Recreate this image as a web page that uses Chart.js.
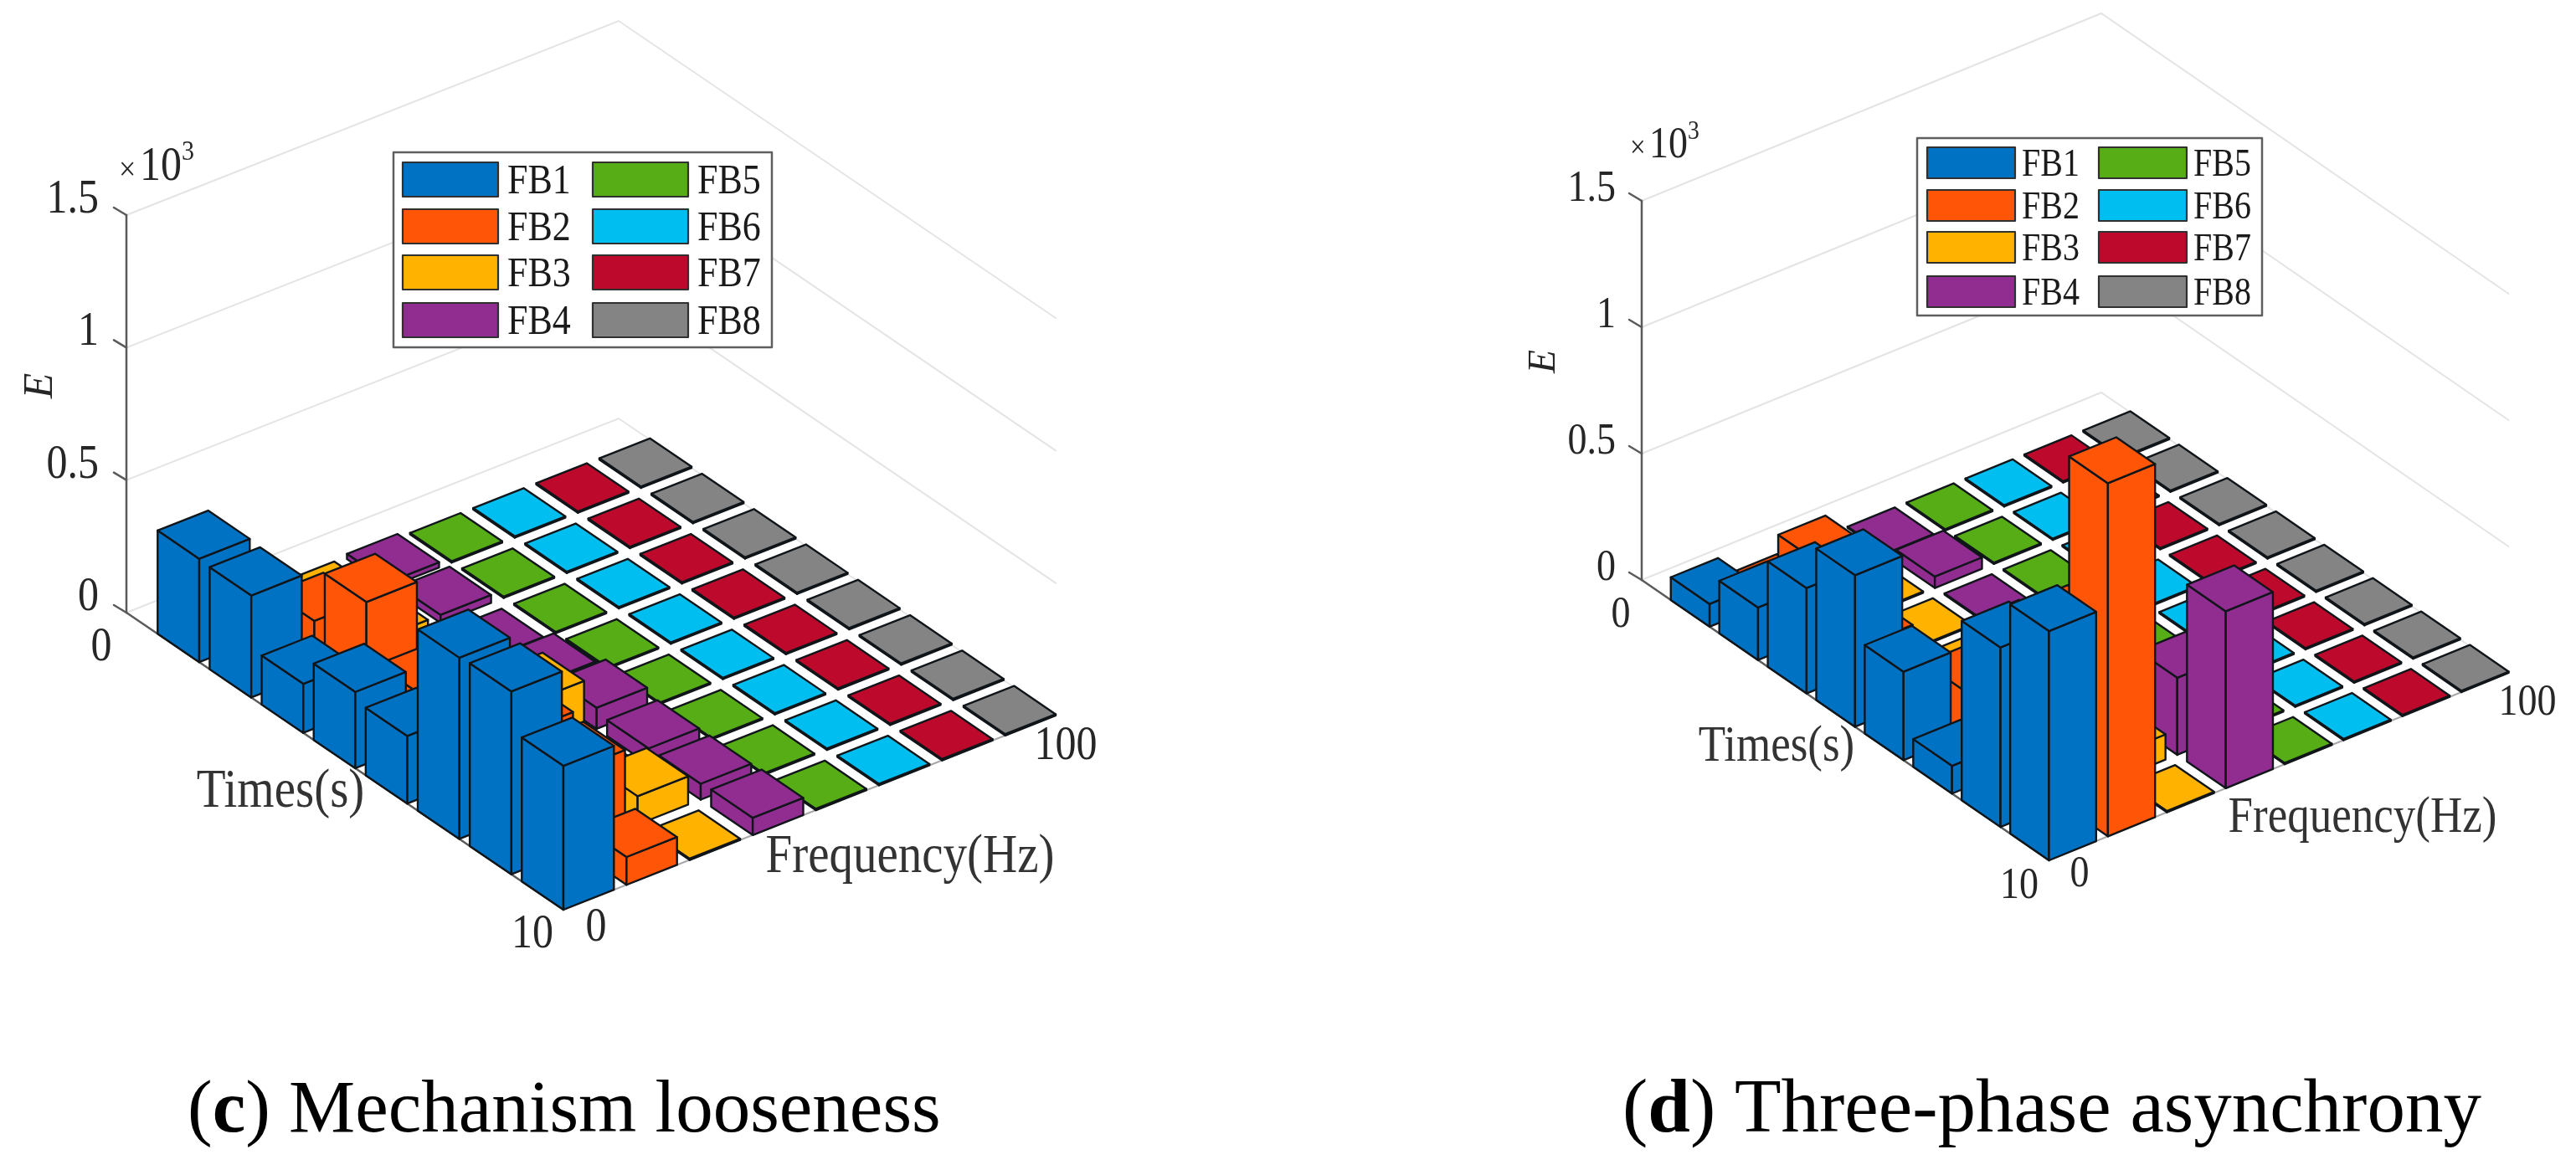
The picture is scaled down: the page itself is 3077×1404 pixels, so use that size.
<!DOCTYPE html>
<html>
<head>
<meta charset="utf-8">
<title>Energy by frequency band</title>
<style>
html,body{margin:0;padding:0;background:#fff;width:3077px;height:1404px;overflow:hidden}
canvas{position:absolute;top:0}
</style>
<script src="https://cdn.jsdelivr.net/npm/chart.js@4/dist/chart.umd.min.js"></script>
</head>
<body>
<canvas id="chartC" style="left:0"></canvas>
<canvas id="chartD" style="left:1540px"></canvas>
<script>
const categories = ['FB1','FB2','FB3','FB4','FB5','FB6','FB7','FB8'];
const timeSlots = [1,2,3,4,5,6,7,8];
const energyTicks = [0,0.5,1,1.5];
const energyTickLabels = ['0','0.5','1','1.5'];
const colours = ['#0072C4','#FF5506','#FFB300','#912C90','#57AD16','#00BFF0','#BD0A2C','#848484'];

const c_FB1 = [0.39,0.385,0.185,0.288,0.255,0.684,0.69,0.543];
const c_FB2 = [0.02,0.195,0.40,0.19,0.2,0.31,0.30,0.105];
const c_FB3 = [0.01,0.03,0.03,0.03,0.2,0.03,0.107,0.005];
const c_FB4 = [0.02,0.03,0.005,0.045,0.08,0.06,0.06,0.065];
const c_FB5 = [0.005,0.005,0.005,0.005,0.005,0.005,0.005,0.005];
const c_FB6 = [0.005,0.005,0.005,0.005,0.005,0.005,0.005,0.005];
const c_FB7 = [0.005,0.005,0.005,0.005,0.005,0.005,0.005,0.005];
const c_FB8 = [0.005,0.005,0.005,0.005,0.005,0.005,0.005,0.005];

const d_FB1 = [0.09,0.208,0.417,0.60,0.35,0.11,0.71,0.907];
const d_FB2 = [0.01,0.295,0.1,0.02,0.185,0.49,0.68,1.397];
const d_FB3 = [0.005,0.005,0.005,0.01,0.02,0.05,0.1,0.005];
const d_FB4 = [0.005,0.045,0.005,0.01,0.01,0.05,0.305,0.70];
const d_FB5 = [0.005,0.005,0.005,0.005,0.005,0.005,0.005,0.005];
const d_FB6 = [0.005,0.005,0.005,0.005,0.005,0.005,0.005,0.005];
const d_FB7 = [0.005,0.005,0.005,0.005,0.005,0.005,0.005,0.005];
const d_FB8 = [0.005,0.005,0.005,0.005,0.005,0.005,0.005,0.005];

const seriesC = [c_FB1,c_FB2,c_FB3,c_FB4,c_FB5,c_FB6,c_FB7,c_FB8];
const seriesD = [d_FB1,d_FB2,d_FB3,d_FB4,d_FB5,d_FB6,d_FB7,d_FB8];

const SERIF = '"Liberation Serif","Times New Roman",serif';

function fitText(ctx, text, x, y, size, align, style, colour, stretch){
  ctx.save();
  ctx.font = (style ? style + ' ' : '') + size + 'px ' + SERIF;
  ctx.textAlign = align; ctx.textBaseline = 'alphabetic';
  ctx.fillStyle = colour || '#262626';
  ctx.translate(x, y);
  ctx.scale(1, stretch || 1);
  ctx.fillText(text, 0, 0);
  ctx.restore();
}
function widthOf(ctx, text, size, style){
  ctx.save();
  ctx.font = (style ? style + ' ' : '') + size + 'px ' + SERIF;
  const w = ctx.measureText(text).width;
  ctx.restore();
  return w;
}

const bars3d = {
  id: 'bars3d',
  beforeDatasetsDraw(chart, args, o){
    const ctx = chart.ctx, sx = chart.scales.x, sf = chart.scales.f, sz = chart.scales.y;
    const dT = v => (sx.getPixelForValue(v) - sx.left) / sx.width;
    const dF = v => (sf.getPixelForValue(v) - sf.left) / sf.width;
    const dZ = v => (sz.bottom - sz.getPixelForValue(v)) / sz.height;
    const P = (t,f,z) => {
      const a = dT(t), b = dF(f), c = dZ(z);
      return [o.origin[0] + a*o.tVec[0] + b*o.fVec[0] - o.offsetX,
              o.origin[1] + a*o.tVec[1] + b*o.fVec[1] - c*o.zLen];
    };
    const tMin = sx.min, tMax = sx.max, fMin = sf.min, fMax = sf.max;
    const ST = 1.14;
    ctx.save();
    ctx.lineCap = 'round';
    // grid on the two walls
    energyTicks.forEach(v => {
      ctx.strokeStyle = '#e4e4e4'; ctx.lineWidth = 2;
      ctx.beginPath();
      let p = P(tMin,fMin,v); ctx.moveTo(p[0],p[1]);
      p = P(tMin,fMax,v); ctx.lineTo(p[0],p[1]);
      p = P(tMax,fMax,v); ctx.lineTo(p[0],p[1]);
      ctx.stroke();
    });
    // axes
    const line = (a,b,col,w) => { ctx.strokeStyle = col; ctx.lineWidth = w; ctx.beginPath(); ctx.moveTo(a[0],a[1]); ctx.lineTo(b[0],b[1]); ctx.stroke(); };
    line(P(tMin,fMin,1.5), P(tMin,fMin,0), '#5a5a5a', 2.5);
    line(P(tMin,fMin,0), P(tMax,fMin,0), '#5a5a5a', 2.5);
    line(P(tMax,fMin,0), P(tMax,fMax,0), '#a8a8a8', 2);
    energyTicks.forEach(v => {
      const a = P(tMin,fMin,v);
      line(a, [a[0]-15, a[1]-9], '#5a5a5a', 2.5);
    });
    // cuboids, far to near
    const half = 0.4;
    ctx.lineJoin = 'round';
    timeSlots.forEach((slot, i) => {
      for (let j = chart.data.datasets.length - 1; j >= 0; j--) {
        const ds = chart.data.datasets[j];
        const h = ds.data[i].y, fc = j + 1;
        const t0 = slot-half, t1 = slot+half, f0 = fc-half, f1 = fc+half;
        const faces = [
          [P(t0,f0,0),P(t1,f0,0),P(t1,f0,h),P(t0,f0,h)],
          [P(t1,f0,0),P(t1,f1,0),P(t1,f1,h),P(t1,f0,h)],
          [P(t0,f0,h),P(t1,f0,h),P(t1,f1,h),P(t0,f1,h)]
        ];
        faces.forEach(face => {
          ctx.beginPath();
          face.forEach((q,k) => k ? ctx.lineTo(q[0],q[1]) : ctx.moveTo(q[0],q[1]));
          ctx.closePath();
          ctx.fillStyle = ds.backgroundColor;
          ctx.fill();
          ctx.strokeStyle = '#10151a'; ctx.lineWidth = 2.4;
          ctx.stroke();
        });
      }
    });
    // tick labels and axis titles
    const X = x => x - o.offsetX;
    energyTicks.forEach((v,k) => {
      const a = P(tMin,fMin,v);
      fitText(ctx, energyTickLabels[k], X(o.zLabelRight), a[1]+o.zLabelDy, o.tickSize, 'right', null, '#262626', ST);
    });
    o.labels.forEach(l => fitText(ctx, l.text, X(l.x), l.y, l.size || o.tickSize, 'center', null, l.colour, ST));
    // multiplier
    fitText(ctx, '\u00d7', X(o.mult[0]), o.mult[1], o.multSize*0.72, 'left', null, '#262626', ST);
    fitText(ctx, '10', X(o.mult[0]+o.multSize*0.5), o.mult[1], o.multSize, 'left', null, '#262626', ST);
    fitText(ctx, '3', X(o.mult[0]+o.multSize*1.5), o.mult[1]-o.multSize*0.48, o.multSize*0.6, 'left', null, '#262626', ST);
    // E
    ctx.save();
    ctx.translate(X(o.eLabel[0]), o.eLabel[1]);
    ctx.rotate(-Math.PI/2);
    fitText(ctx, 'E', 0, 0, o.eSize, 'center', 'italic', '#262626');
    ctx.restore();
    // legend
    const L = o.legend;
    ctx.fillStyle = '#fff';
    ctx.fillRect(X(L.box[0]), L.box[1], L.box[2]-L.box[0], L.box[3]-L.box[1]);
    ctx.strokeStyle = '#5f5f5f'; ctx.lineWidth = 2.5;
    ctx.strokeRect(X(L.box[0]), L.box[1], L.box[2]-L.box[0], L.box[3]-L.box[1]);
    chart.data.datasets.forEach((ds,j) => {
      const col = j < 4 ? 0 : 1, row = j % 4;
      const x = L.cols[col], y = L.rows[row];
      ctx.fillStyle = ds.backgroundColor;
      ctx.fillRect(X(x), y, L.w, L.h);
      ctx.strokeStyle = '#303030'; ctx.lineWidth = 2.2;
      ctx.strokeRect(X(x), y, L.w, L.h);
      fitText(ctx, ds.label, X(x+L.w+L.gap), y+L.h/2+L.size*0.38, L.size, 'left', null, '#1a1a1a', ST);
    });
    // caption
    const cy = o.captionAt[1], cs = o.captionSize;
    let cx = X(o.captionAt[0]);
    fitText(ctx, o.caption[0], cx, cy, cs, 'left', null, '#000');
    cx += widthOf(ctx, o.caption[0], cs);
    fitText(ctx, o.caption[1], cx, cy, cs, 'left', 'bold', '#000');
    cx += widthOf(ctx, o.caption[1], cs, 'bold');
    fitText(ctx, o.caption[2], cx, cy, cs, 'left', null, '#000');
    ctx.restore();
  }
};

function build(id, series, geo){
  const el = document.getElementById(id);
  el.style.width = geo.width + 'px'; el.style.height = '1404px';
  el.width = geo.width; el.height = 1404;
  return new Chart(el, {
    type: 'scatter',
    data: {
      datasets: categories.map((name,j) => ({
        label: name,
        backgroundColor: colours[j],
        pointRadius: 0,
        data: timeSlots.map((s,i) => ({x:s, y:series[j][i]}))
      }))
    },
    options: {
      responsive: false,
      animation: false,
      devicePixelRatio: 1,
      layout: {padding: 0},
      scales: {
        x: {type:'linear', min:0, max:8.4, display:false},
        f: {type:'linear', axis:'x', position:'bottom', min:0.6, max:8.4, display:false},
        y: {type:'linear', min:0, max:1.5, display:false}
      },
      plugins: {
        legend: {display:false},
        tooltip: {enabled:false},
        bars3d: geo
      }
    },
    plugins: [bars3d]
  });
}

build('chartC', seriesC, {
  width: 1540, offsetX: 0,
  origin: [151,732], tVec: [522,355], fVec: [588,-232], zLen: 475,
  tickSize: 50, zLabelRight: 118, zLabelDy: -3,
  labels: [
    {text:'0', x:121, y:789},
    {text:'100', x:1273, y:907},
    {text:'Times(s)', x:335, y:964, size:57, colour:'#333'},
    {text:'Frequency(Hz)', x:1087, y:1042, size:57, colour:'#333'},
    {text:'10', x:636, y:1132},
    {text:'0', x:712, y:1124}
  ],
  mult: [142,215], multSize: 50,
  eLabel: [62,461], eSize: 50,
  legend: {box:[470,182,922,415], cols:[481,708], rows:[194,250,305,362], w:114, h:41, gap:11, size:44},
  caption: ['(', 'c', ') Mechanism looseness'], captionAt: [224,1352], captionSize: 89
});

build('chartD', seriesD, {
  width: 1537, offsetX: 1540,
  origin: [1961,693], tVec: [486.5,335], fVec: [549,-224], zLen: 453,
  tickSize: 46, zLabelRight: 1930, zLabelDy: 0,
  labels: [
    {text:'0', x:1936, y:749},
    {text:'100', x:3019, y:854},
    {text:'Times(s)', x:2122, y:909, size:53, colour:'#333'},
    {text:'Frequency(Hz)', x:2822, y:994, size:53, colour:'#333'},
    {text:'10', x:2412, y:1073},
    {text:'0', x:2484, y:1059}
  ],
  mult: [1947,188], multSize: 46,
  eLabel: [1857,432], eSize: 46,
  legend: {box:[2290,165,2702,377], cols:[2302,2507], rows:[176,227,277,330], w:105, h:37, gap:8, size:40},
  caption: ['(', 'd', ') Three-phase asynchrony'], captionAt: [1938,1352], captionSize: 91
});
</script>
</body>
</html>
